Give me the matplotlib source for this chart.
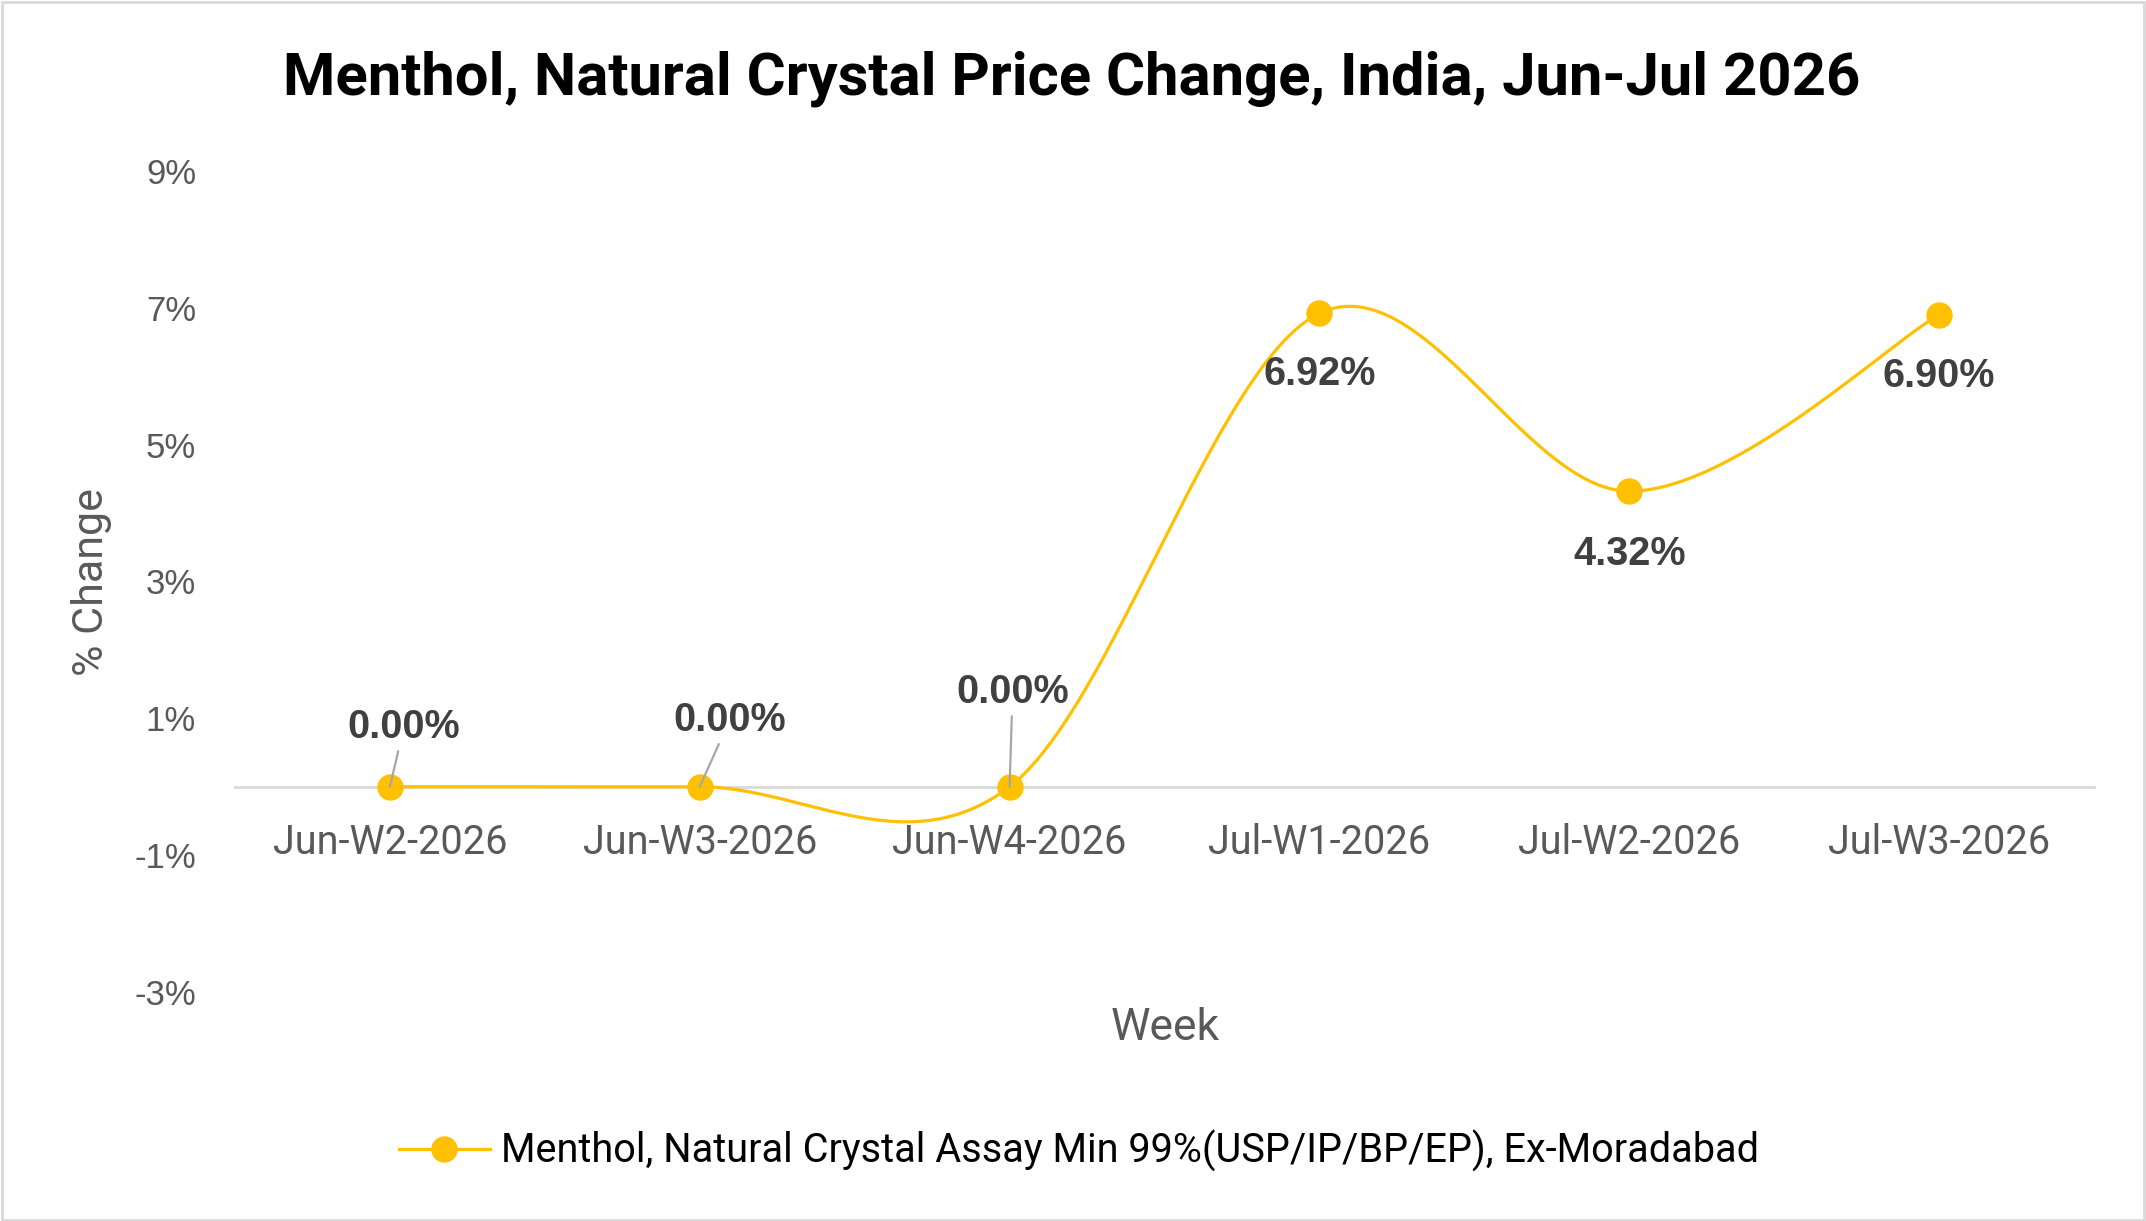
import numpy as np
import matplotlib
matplotlib.use("Agg")
from matplotlib import pyplot as plt
from matplotlib.lines import Line2D

weeks = ["Jun-W2-2026", "Jun-W3-2026", "Jun-W4-2026", "Jul-W1-2026", "Jul-W2-2026", "Jul-W3-2026"]
pct_change = [0.00, 0.00, 0.00, 6.92, 4.32, 6.90]
series_name = "Menthol, Natural Crystal Assay Min 99%(USP/IP/BP/EP), Ex-Moradabad"
y_ticks = [-3, -1, 1, 3, 5, 7, 9]

# label offsets in pixels (dx, dy)
label_offsets = [(14, 60), (30, 67), (3, 95), (0, -61), (0, -63), (0, -61)]

GOLD = "#FFC000"
GREY = "#595959"


def smooth_curve(x, y, n=60):
    # Excel-style smoothed line (Catmull-Rom -> cubic Bezier)
    x = np.asarray(x, float)
    y = np.asarray(y, float)
    pts = np.column_stack([x, y])
    out = []
    for i in range(len(pts) - 1):
        p0 = pts[i - 1] if i > 0 else pts[i]
        p1 = pts[i]
        p2 = pts[i + 1]
        p3 = pts[i + 2] if i + 2 < len(pts) else pts[i + 1]
        c1 = p1 + (p2 - p0) / 6
        c2 = p2 - (p3 - p1) / 6
        t = np.linspace(0, 1, n)[:, None]
        seg = ((1 - t) ** 3) * p1 + 3 * ((1 - t) ** 2) * t * c1 + 3 * (1 - t) * t ** 2 * c2 + t ** 3 * p2
        out.append(seg)
    seg = np.vstack(out)
    return seg[:, 0], seg[:, 1]


fig = plt.figure(figsize=(21.46, 12.21), dpi=100)
ax = fig.add_axes([235 / 2146, 1 - 992 / 1221, (2094 - 235) / 2146, (992 - 171) / 1221])

# x axis sits on the zero line; set this before styling ticks (it resets them)
for s in ["top", "right", "left"]:
    ax.spines[s].set_visible(False)
ax.spines["bottom"].set_position(("data", 0))
ax.spines["bottom"].set_color("#D9D9D9")
ax.spines["bottom"].set_linewidth(2)
ax.spines["bottom"].set_zorder(1)

xs = np.arange(len(weeks))
sx, sy = smooth_curve(xs, pct_change)
ax.plot(sx, sy, color=GOLD, lw=2.3, zorder=3, solid_capstyle="round")
ax.plot(xs, pct_change, "o", color=GOLD, ms=18, zorder=4)

for i, v in enumerate(pct_change):
    dx, dy = label_offsets[i]
    arrow = None
    if v == 0:
        arrow = dict(arrowstyle="-", color="#A6A6A6", lw=1.6, shrinkA=2, shrinkB=0)
    ax.annotate(f"{v:.2f}%", (xs[i], v), xytext=(dx, dy), textcoords="offset pixels",
                ha="center", va="center", fontsize=28.5, fontweight="bold",
                color="#404040", family="Liberation Sans", arrowprops=arrow, zorder=5)

ax.set_xlim(-0.5, len(weeks) - 0.5)
ax.set_ylim(-3, 9)
ax.set_yticks(y_ticks)
ax.set_yticklabels([f"{t}%" for t in y_ticks], family="Liberation Sans", fontsize=25, color=GREY)
ax.set_xticks(xs)
ax.set_xticklabels(weeks, family="Roboto", fontsize=28.5, color=GREY)
ax.tick_params(axis="both", length=0)
ax.tick_params(axis="x", pad=26)
ax.tick_params(axis="y", pad=28)

ax.set_ylabel("% Change", family="Roboto", fontsize=31, color=GREY)
ax.yaxis.set_label_coords(-0.066, 0.5)

fig.text(1165 / 2146, 1 - 1028 / 1221, "Week", ha="center", va="center",
         family="Roboto", fontsize=32, color=GREY)
fig.text(1072 / 2146, 1 - 79 / 1221, "Menthol, Natural Crystal Price Change, India, Jun-Jul 2026",
         ha="center", va="center", family="Roboto", fontsize=43, fontweight="bold", color="black")

handle = Line2D([], [], color=GOLD, lw=2.3, marker="o", ms=18)
fig.legend([handle], [series_name], loc="center", bbox_to_anchor=(1079 / 2146, 1 - 1151 / 1221),
           frameon=False, prop={"family": "Roboto", "size": 28.5}, handlelength=2.3, handletextpad=0.3)

# light frame around the chart
fig.patches.append(plt.Rectangle((0.001, 0.001), 0.998, 0.997, transform=fig.transFigure,
                                 fill=False, edgecolor="#D9D9D9", lw=2))

fig.savefig("out.png", dpi=100)
